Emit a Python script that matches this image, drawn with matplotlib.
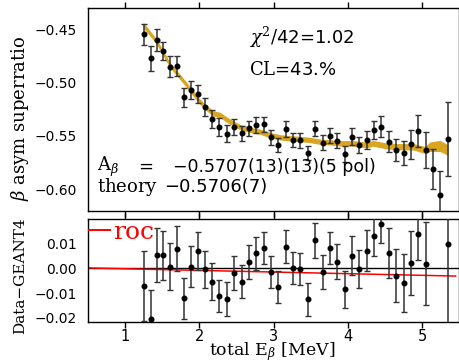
import matplotlib
matplotlib.use('Agg')
import matplotlib.pyplot as plt
import numpy as np

plt.rcParams['mathtext.fontset'] = 'dejavuserif'
plt.rcParams['font.family'] = 'DejaVu Sans'

# ---- data ----
energy = [1.254, 1.344, 1.429, 1.514, 1.608, 1.699, 1.789, 1.887, 1.986, 2.080,
          2.174, 2.268, 2.368, 2.466, 2.570, 2.668, 2.767, 2.866, 2.965, 3.063,
          3.163, 3.261, 3.359, 3.459, 3.557, 3.661, 3.759, 3.858, 3.957, 4.056,
          4.154, 4.254, 4.352, 4.451, 4.554, 4.652, 4.752, 4.850, 4.949, 5.048,
          5.146, 5.245, 5.345]

superratio = [-0.4547, -0.4772, -0.4600, -0.4703, -0.4850, -0.4844, -0.5138, -0.5069,
              -0.5107, -0.5231, -0.5344, -0.5419, -0.5479, -0.5416, -0.5475, -0.5428,
              -0.5397, -0.5390, -0.5513, -0.5585, -0.5435, -0.5538, -0.5541, -0.5660,
              -0.5432, -0.5563, -0.5497, -0.5544, -0.5669, -0.5507, -0.5585, -0.5538,
              -0.5444, -0.5413, -0.5553, -0.5632, -0.5657, -0.5578, -0.5453, -0.5632,
              -0.5810, -0.6053, -0.5531]

superratio_err = [0.0097, 0.0116, 0.0105, 0.0080, 0.0097, 0.0097, 0.0090, 0.0083,
                  0.0084, 0.0084, 0.0086, 0.0083, 0.0078, 0.0072, 0.0069, 0.0072,
                  0.0072, 0.0069, 0.0069, 0.0069, 0.0075, 0.0069, 0.0069, 0.0068,
                  0.0073, 0.0070, 0.0070, 0.0072, 0.0075, 0.0078, 0.0078, 0.0082,
                  0.0086, 0.0100, 0.0095, 0.0105, 0.0114, 0.0137, 0.0148, 0.0172,
                  0.0192, 0.0228, 0.0347]

# GEANT4 simulation band
sim_x = [1.245, 1.425, 1.604, 1.716, 1.829, 1.986, 2.099, 2.188, 2.278, 2.412,
         2.547, 2.682, 2.816, 2.951, 3.086, 3.221, 3.355, 3.490, 3.625, 3.760,
         3.894, 4.069, 4.254, 4.338, 4.523, 4.702, 4.877, 5.039, 5.106, 5.241, 5.349]
sim_y = [-0.4460, -0.4616, -0.4835, -0.4928, -0.5022, -0.5163, -0.5241, -0.5288,
         -0.5303, -0.5366, -0.5416, -0.5444, -0.5460, -0.5491, -0.5513, -0.5522,
         -0.5528, -0.5538, -0.5554, -0.5560, -0.5569, -0.5569, -0.5585, -0.5569,
         -0.5594, -0.5601, -0.5601, -0.5632, -0.5601, -0.5594, -0.5632]
sim_w = [0.0025, 0.0025, 0.0025, 0.0025, 0.0025, 0.0025, 0.0025, 0.0025,
         0.0025, 0.0025, 0.0025, 0.0025, 0.0025, 0.0025, 0.0025, 0.0025,
         0.0025, 0.0025, 0.0025, 0.0025, 0.0026, 0.0026, 0.0027, 0.0027,
         0.0028, 0.0029, 0.0030, 0.0033, 0.0045, 0.0052, 0.0050]

# residuals Data - GEANT4 (points 41, 42 fall off the panel)
resid = [-0.0071, -0.0206, 0.0053, 0.0053, 0.0007, 0.0080, -0.0122, 0.0007,
         0.0072, -0.0004, -0.0054, -0.0113, -0.0125, -0.0018, -0.0054, 0.0026,
         0.0061, 0.0083, -0.0014, -0.0076, 0.0088, 0.0000, -0.0003, -0.0125,
         0.0114, -0.0015, 0.0084, 0.0028, -0.0085, 0.0051, -0.0002, 0.0073,
         0.0131, 0.0180, 0.0062, -0.0030, -0.0060, 0.0023, 0.0139, 0.0019,
         np.nan, np.nan, 0.0098]
resid_err = [0.0141, 0.0120, 0.0110, 0.0101, 0.0095, 0.0092, 0.0085, 0.0083,
             0.0078, 0.0076, 0.0075, 0.0064, 0.0070, 0.0068, 0.0066, 0.0068,
             0.0066, 0.0066, 0.0065, 0.0064, 0.0067, 0.0065, 0.0065, 0.0067,
             0.0070, 0.0068, 0.0064, 0.0073, 0.0075, 0.0079, 0.0079, 0.0085,
             0.0079, 0.0078, 0.0102, 0.0108, 0.0119, 0.0130, 0.0104, 0.0169,
             np.nan, np.nan, 0.0350]

roc_x = [0.5, 5.45]
roc_y = [0.0002, -0.0031]

xticks = [1, 2, 3, 4, 5]
top_yticks = [-0.60, -0.55, -0.50, -0.45]
top_ylabels = ['\u22120.60', '\u22120.55', '\u22120.50', '\u22120.45']
bot_yticks = [-0.02, -0.01, 0.00, 0.01]
bot_ylabels = ['\u22120.02', '\u22120.01', '0.00', '0.01']

W, H = 459, 362


def fx(px):
    return px / W


def fy(py):
    return 1 - py / H


fig = plt.figure(figsize=(W / 100, H / 100), dpi=100)
ax1 = fig.add_axes([fx(88), fy(210.6), 371.25 / W, (210.6 - 8) / H])
ax2 = fig.add_axes([fx(88), fy(322), 371.25 / W, (322 - 219.3) / H])

# top panel
sy = np.array(sim_y)
sw = np.array(sim_w)
ax1.fill_between(sim_x, sy - sw, sy + sw, color='#DAA520', lw=0, zorder=2)
ax1.errorbar(energy, superratio, yerr=superratio_err, fmt='o', color='black',
             ecolor='#333333', elinewidth=1.1, capsize=2, capthick=1.0,
             markersize=3.3, zorder=3)
ax1.set_xlim(0.5, 5.5)
ax1.set_ylim(-0.62, -0.43)
ax1.set_yticks(top_yticks)
ax1.set_yticklabels(top_ylabels)

# bottom panel
ax2.axhline(0, color='black', lw=1.0, zorder=1)
ax2.plot(roc_x, roc_y, color='red', lw=1.1, label='roc', zorder=2)
ax2.errorbar(energy, resid, yerr=resid_err, fmt='o', color='black',
             ecolor='#333333', elinewidth=1.1, capsize=2, capthick=1.0,
             markersize=3.3, zorder=3)
ax2.set_xlim(0.5, 5.5)
ax2.set_ylim(-0.0218, 0.02)
ax2.set_yticks(bot_yticks)
ax2.set_yticklabels(bot_ylabels)
leg = ax2.legend(loc='upper left', bbox_to_anchor=(0.003, 0.985), frameon=False,
                 prop={'family': 'DejaVu Serif', 'size': 18}, labelcolor='red',
                 handlelength=0.85, handletextpad=0.12, borderpad=0, borderaxespad=0)
for h in leg.get_lines():
    h.set_linewidth(1.4)

for ax in (ax1, ax2):
    ax.set_xticks(xticks)
    ax.tick_params(axis='x', direction='out', length=4.5, width=1.0,
                   top=True, bottom=True, labelsize=10.5, pad=0.8)
    ax.tick_params(axis='y', direction='out', length=0, labelsize=10, pad=8)
    for s in ax.spines.values():
        s.set_linewidth(1.0)
ax1.tick_params(axis='x', labelbottom=False)

# labels
fig.text(fx(20), fy(118), r'$\beta$ asym superratio', family='DejaVu Serif',
         rotation=90, ha='center', va='center', fontsize=13)
fig.text(fx(20), fy(276), 'Data\u2212GEANT4', family='DejaVu Serif',
         rotation=90, ha='center', va='center', fontsize=11)
fig.text(fx(272), fy(355), r'total E$_\beta$ [MeV]', family='DejaVu Serif',
         ha='center', va='baseline', fontsize=12.5)

# fit annotations
fig.text(fx(249), fy(44), r'$\chi^2/$42=1.02', fontsize=13, va='baseline')
fig.text(fx(249), fy(75), r'$\mathrm{CL}$=43.%', fontsize=13, va='baseline')
fig.text(fx(97), fy(171), r'$\mathrm{A}_{\beta}$', fontsize=13, va='baseline')
fig.text(fx(138), fy(172), '=', fontsize=13, va='baseline')
fig.text(fx(173), fy(172), '\u22120.5707(13)(13)(5 pol)', fontsize=12.5, va='baseline')
fig.text(fx(97), fy(192), r'$\mathrm{theory}$', fontsize=13, va='baseline')
fig.text(fx(164), fy(192), '\u22120.5706(7)', fontsize=13, va='baseline')

fig.savefig('out.png', dpi=100)
